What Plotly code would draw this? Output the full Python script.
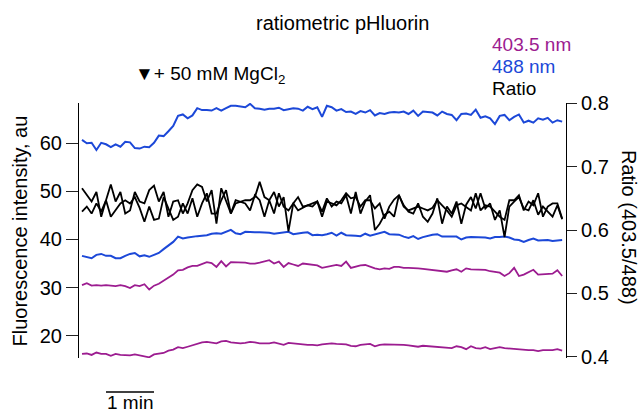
import plotly.graph_objects as go

# ---------------- data ----------------
time_min = [0.0, 0.1, 0.2, 0.3, 0.4, 0.5, 0.6, 0.7, 0.8, 0.9,
            1.0, 1.1, 1.2, 1.3, 1.4, 1.5, 1.6, 1.7, 1.8, 1.9,
            2.0, 2.1, 2.2, 2.3, 2.4, 2.5, 2.6, 2.7, 2.8, 2.9,
            3.0, 3.1, 3.2, 3.3, 3.4, 3.5, 3.6, 3.7, 3.8, 3.9,
            4.0, 4.1, 4.2, 4.3, 4.4, 4.5, 4.6, 4.7, 4.8, 4.9,
            5.0, 5.1, 5.2, 5.3, 5.4, 5.5, 5.6, 5.7, 5.8, 5.9,
            6.0, 6.1, 6.2, 6.3, 6.4, 6.5, 6.6, 6.7, 6.8, 6.9,
            7.0, 7.1, 7.2, 7.3, 7.4, 7.5, 7.6, 7.7, 7.8, 7.9,
            8.0, 8.1, 8.2, 8.3, 8.4, 8.5, 8.6, 8.7, 8.8, 8.9,
            9.0, 9.1, 9.2, 9.3, 9.4, 9.5, 9.6, 9.7, 9.8, 9.9, 10.0]

# 488 nm, upper trace
blue_a = [60.7, 60.0, 60.1, 58.6, 60.1, 59.8, 59.2, 59.8, 59.3, 60.3,
          60.2, 59.0, 58.9, 59.3, 59.2, 60.1, 61.6, 61.5, 62.5, 63.6,
          65.7, 66.0, 65.2, 65.8, 67.3, 66.9, 66.9, 66.8, 67.3, 66.8,
          67.3, 67.8, 67.8, 67.6, 67.5, 68.2, 67.3, 67.2, 67.0, 67.2,
          67.2, 67.4, 66.9, 67.1, 67.3, 67.2, 66.8, 67.6, 67.1, 67.5,
          65.5, 67.8, 67.5, 66.8, 67.1, 66.5, 66.6, 66.1, 66.7, 66.4,
          66.9, 65.8, 66.3, 66.1, 66.4, 66.5, 66.4, 66.6, 66.1, 66.8,
          65.7, 66.6, 66.5, 66.4, 65.8, 66.6, 66.1, 65.9, 64.8, 66.1,
          66.2, 65.9, 67.0, 65.3, 65.6, 65.2, 64.0, 65.7, 65.9, 64.8,
          65.5, 66.0, 64.3, 64.7, 64.3, 65.2, 64.9, 65.3, 64.3, 64.8, 64.5]

# 488 nm, lower trace
blue_b = [36.6, 36.4, 36.1, 36.8, 37.0, 36.6, 36.6, 36.1, 36.1, 36.6,
          37.0, 37.2, 36.5, 36.7, 36.4, 36.8, 37.2, 38.0, 38.7, 39.5,
          40.6, 40.2, 40.4, 40.6, 40.7, 40.8, 40.9, 41.2, 41.3, 41.2,
          41.6, 42.0, 41.3, 41.1, 41.6, 41.5, 41.5, 41.5, 41.5, 41.4,
          41.2, 41.3, 41.4, 41.6, 41.1, 41.3, 41.4, 41.5, 40.9, 41.0,
          40.9, 41.1, 41.4, 40.8, 41.4, 40.9, 40.9, 40.8, 40.7, 41.2,
          40.8, 41.1, 41.3, 41.6, 41.1, 41.1, 41.0, 40.6, 40.3, 40.7,
          40.1, 40.5, 40.8, 41.0, 41.1, 40.6, 40.6, 40.6, 40.6, 40.0,
          40.4, 40.5, 40.5, 40.5, 40.4, 40.2, 40.5, 40.5, 40.6, 40.4,
          40.0, 39.9, 39.5, 39.9, 40.2, 39.8, 39.9, 39.9, 39.7, 39.8, 39.9]

# 403.5 nm, upper trace
purple_a = [30.5, 30.9, 30.4, 30.5, 30.4, 30.5, 30.4, 30.3, 30.5, 30.3,
            29.9, 30.5, 30.3, 30.7, 29.6, 30.4, 30.8, 31.4, 32.0, 32.7,
            33.6, 33.7, 34.2, 34.5, 34.5, 34.9, 35.3, 35.1, 34.3, 35.5,
            34.4, 35.3, 35.3, 35.2, 35.2, 35.0, 35.0, 35.2, 35.4, 35.7,
            35.0, 35.4, 34.3, 35.1, 34.8, 34.5, 35.0, 34.9, 34.8, 34.6,
            34.1, 34.3, 34.5, 34.7, 34.5, 35.4, 34.1, 34.4, 34.6, 34.7,
            34.3, 34.0, 33.8, 34.0, 33.9, 34.3, 34.3, 34.1, 34.1, 34.1,
            34.0, 33.9, 33.8, 33.7, 33.6, 33.4, 33.3, 33.6, 33.8, 33.3,
            34.0, 33.8, 33.8, 33.8, 33.7, 33.4, 33.2, 33.1, 32.4, 33.0,
            34.1, 32.4, 32.7, 33.2, 33.7, 32.7, 32.8, 32.8, 32.9, 33.6, 32.4]

# 403.5 nm, lower trace
purple_b = [16.2, 16.3, 16.0, 16.5, 16.2, 16.2, 15.8, 16.2, 16.0, 15.9,
            15.9, 16.1, 15.9, 15.8, 15.5, 16.1, 16.3, 16.4, 16.9, 17.1,
            17.6, 17.4, 17.7, 18.0, 18.3, 18.6, 18.7, 18.5, 18.4, 18.8,
            18.9, 18.6, 18.5, 18.4, 18.5, 18.7, 18.6, 18.4, 18.4, 18.4,
            18.6, 18.3, 18.1, 18.5, 18.4, 18.2, 18.1, 18.1, 18.1, 18.0,
            18.2, 18.3, 18.4, 18.3, 18.3, 18.2, 17.9, 17.8, 18.1, 18.2,
            18.3, 17.8, 18.1, 18.2, 18.2, 18.1, 18.1, 18.1, 18.0, 17.9,
            17.7, 17.9, 17.8, 17.7, 17.7, 17.6, 17.5, 17.4, 17.8, 17.6,
            17.2, 17.8, 17.4, 17.3, 17.6, 17.2, 17.4, 17.6, 17.4, 17.3,
            17.3, 17.2, 17.0, 17.0, 17.0, 16.8, 17.0, 17.0, 17.0, 17.2, 16.9]

# Ratio (403.5/488), two traces
ratio_a = [0.666, 0.656, 0.645, 0.660, 0.621, 0.647, 0.672, 0.645, 0.660, 0.626,
           0.631, 0.660, 0.645, 0.642, 0.663, 0.670, 0.645, 0.660, 0.621, 0.645,
           0.647, 0.626, 0.642, 0.663, 0.672, 0.668, 0.645, 0.663, 0.610, 0.666,
           0.645, 0.626, 0.642, 0.645, 0.647, 0.647, 0.652, 0.676, 0.652, 0.647,
           0.660, 0.637, 0.652, 0.598, 0.642, 0.652, 0.637, 0.639, 0.642, 0.645,
           0.629, 0.650, 0.637, 0.645, 0.642, 0.655, 0.626, 0.660, 0.626, 0.645,
           0.655, 0.600, 0.610, 0.624, 0.629, 0.621, 0.655, 0.639, 0.629, 0.626,
           0.642, 0.621, 0.613, 0.626, 0.650, 0.610, 0.637, 0.626, 0.645, 0.610,
           0.640, 0.652, 0.634, 0.658, 0.634, 0.642, 0.616, 0.631, 0.589, 0.637,
           0.645, 0.652, 0.634, 0.631, 0.647, 0.624, 0.637, 0.629, 0.621, 0.639, 0.617]

ratio_b = [0.629, 0.637, 0.626, 0.642, 0.629, 0.647, 0.621, 0.631, 0.642, 0.647,
           0.642, 0.652, 0.635, 0.613, 0.637, 0.616, 0.618, 0.652, 0.635, 0.616,
           0.621, 0.642, 0.626, 0.650, 0.621, 0.642, 0.658, 0.626, 0.626, 0.647,
           0.663, 0.626, 0.647, 0.644, 0.642, 0.631, 0.655, 0.647, 0.621, 0.647,
           0.626, 0.658, 0.637, 0.631, 0.642, 0.631, 0.635, 0.639, 0.637, 0.645,
           0.621, 0.645, 0.642, 0.639, 0.647, 0.658, 0.650, 0.652, 0.637, 0.647,
           0.647, 0.634, 0.642, 0.618, 0.637, 0.648, 0.655, 0.637, 0.631, 0.634,
           0.637, 0.634, 0.631, 0.635, 0.647, 0.639, 0.631, 0.621, 0.639, 0.642,
           0.637, 0.631, 0.658, 0.631, 0.639, 0.637, 0.629, 0.621, 0.616, 0.647,
           0.647, 0.655, 0.631, 0.645, 0.639, 0.658, 0.621, 0.637, 0.642, 0.642, 0.618]

left_ticks = [20, 30, 40, 50, 60]
right_ticks = [0.4, 0.5, 0.6, 0.7, 0.8]
legend_labels = ["403.5 nm", "488 nm", "Ratio"]

# ---------------- style ----------------
PURPLE = "#9c1c90"
BLUE = "#1c48d8"
BLACK = "#000000"
FONT = "Liberation Sans, Arial, Helvetica, sans-serif"

W, H = 640, 414
ML, MR, MT, MB = 79, 74, 103, 56
PW, PH = W - ML - MR, H - MT - MB


def px(x):
    return (x - ML) / PW


def py(y):
    return (H - MB - y) / PH


fig = go.Figure()
for ys, col, wd in [(purple_b, PURPLE, 1.8), (purple_a, PURPLE, 1.8),
                    (blue_b, BLUE, 2), (blue_a, BLUE, 2)]:
    fig.add_trace(go.Scatter(x=time_min, y=ys, mode="lines",
                             line=dict(color=col, width=wd), yaxis="y",
                             showlegend=False, hoverinfo="skip"))
for ys in [ratio_b, ratio_a]:
    fig.add_trace(go.Scatter(x=time_min, y=ys, mode="lines",
                             line=dict(color=BLACK, width=1.8), yaxis="y2",
                             showlegend=False, hoverinfo="skip"))

fig.update_layout(
    width=W, height=H,
    margin=dict(l=ML, r=MR, t=MT, b=MB, pad=0),
    paper_bgcolor="white", plot_bgcolor="white",
    font=dict(family=FONT, size=20, color="black"),
    showlegend=False,
    xaxis=dict(visible=False, range=[-0.0625, 10.08]),
    yaxis=dict(range=[15.36, 68.38], tickvals=left_ticks,
               ticks="outside", ticklen=12, tickwidth=1, tickcolor="#222",
               showline=True, linecolor="black", linewidth=1,
               showgrid=False, zeroline=False,
               tickfont=dict(size=20)),
    yaxis2=dict(range=[0.398, 0.8005], tickvals=right_ticks,
                tickformat=".1f", overlaying="y", side="right",
                ticks="outside", ticklen=10, tickwidth=1, tickcolor="#222",
                showline=True, linecolor="black", linewidth=1,
                showgrid=False, zeroline=False,
                tickfont=dict(size=20)),
)

ann = [
    dict(text="ratiometric pHluorin", x=px(342), y=py(23), size=20,
         color="black", xanchor="center", angle=0),
    dict(text="Fluorescence intensity, au", x=px(19.5), y=py(231), size=20,
         color="black", xanchor="center", angle=-90),
    dict(text="Ratio (403.5/488)", x=px(629), y=py(227), size=20,
         color="black", xanchor="center", angle=90),
    dict(text=legend_labels[0], x=px(490), y=py(45), size=19, color=PURPLE,
         xanchor="left", angle=0),
    dict(text=legend_labels[1], x=px(490), y=py(66.5), size=19, color=BLUE,
         xanchor="left", angle=0),
    dict(text=legend_labels[2], x=px(490), y=py(88), size=19, color=BLACK,
         xanchor="left", angle=0),
    dict(text="\u25BC+ 50 mM MgCl<sub>2</sub>", x=px(133), y=py(75), size=19,
         color="black", xanchor="left", angle=0),
    dict(text="1 min", x=px(130), y=py(402), size=19, color="black",
         xanchor="center", angle=0),
]
for a in ann:
    fig.add_annotation(text=a["text"], x=a["x"], y=a["y"], xref="paper",
                       yref="paper", xanchor=a["xanchor"], yanchor="middle",
                       showarrow=False, textangle=a["angle"],
                       font=dict(family=FONT, size=a["size"], color=a["color"]))

# 1-minute scale bar (data x units, paper y)
fig.add_shape(type="line", xref="x", yref="paper", x0=0.5, x1=1.5,
              y0=py(392), y1=py(392), line=dict(color="black", width=1.5))

fig.write_html("out.html", config={"displayModeBar": False})
